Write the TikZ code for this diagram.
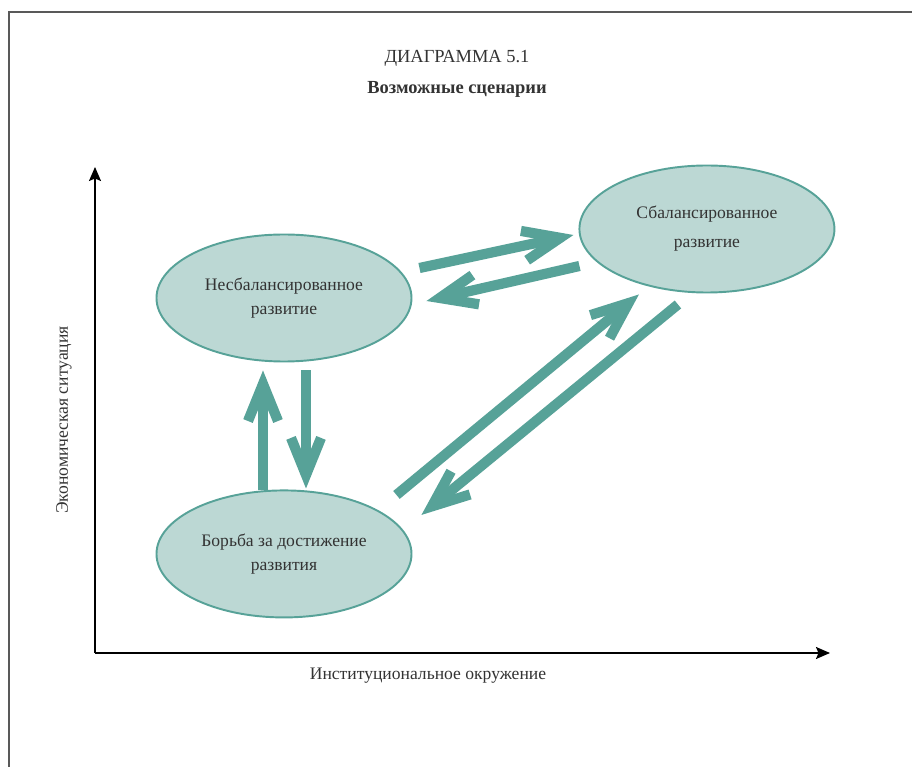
\documentclass[tikz,border=0pt]{standalone}
\usepackage{fontspec}
\setmainfont{Liberation Serif}
\usetikzlibrary{positioning,shapes.geometric,arrows.meta}

\definecolor{tealline}{HTML}{57A298}
\definecolor{tealfill}{HTML}{BCD8D4}
\definecolor{textgray}{HTML}{333333}

\tikzset{
    state/.style={ellipse, draw=tealline, line width=1.1pt, fill=tealfill,
        minimum width=5.1cm, minimum height=2.54cm, inner sep=0pt,
        align=center, text=textgray, font=\fontsize{10}{13.5}\selectfont},
    flow/.style={draw=tealline, line width=5.8pt,
        -{Straight Barb[length=0.74cm, width=0.6cm, line cap=butt]}},
    axis/.style={line width=1pt, -{Stealth[length=0.28cm, width=0.24cm, inset=0.05cm]}},
}

\begin{document}
\begin{tikzpicture}
                \useasboundingbox (0,0) rectangle (18.24,-15.34);
                \draw[gray!70!black, line width=1.1pt] (0.18,-15.34) -- (0.18,-0.24) -- (18.24,-0.24);

                \node[text=textgray, font=\fontsize{10.5}{12}\selectfont] (title) at (9.14,-1.16) {ДИАГРАММА 5.1};
                \node[below=0.06cm of title, text=textgray, font=\fontsize{10.5}{12}\selectfont\bfseries] (subtitle) {Возможные сценарии};

                % axes
                \coordinate (o) at (1.9,-13.06);
                \coordinate (ytop) at (1.9,-3.34);
                \coordinate (xend) at (16.6,-13.06);
                \draw[axis] (o) -- (ytop);
                \draw[axis] (o) -- (xend);
                \node[rotate=90, text=textgray, font=\fontsize{10}{12}\selectfont] (ylab) at (1.28,-8.4) {Экономическая ситуация};
                \node[text=textgray, font=\fontsize{10}{12}\selectfont] (xlab) at (8.56,-13.52) {Институциональное окружение};

                % states
                \node[state] (nb) at (5.68,-5.96) {Несбалансированное\\развитие};
                \node[state, below=2.54cm of nb] (fd) {Борьба за достижение\\развития};
                \node[state, right=3.32cm of nb, yshift=1.38cm] (bd) {Сбалансированное\\[3pt]развитие};

                % transitions
                \draw[flow] ([shift={(0.14,0.6)}]nb.east) -- ([shift={(-0.1,-0.12)}]bd.west);
                \draw[flow] ([shift={(0.02,-0.74)}]bd.west) -- ([shift={(0.28,-0.06)}]nb.east);
                \draw[flow] ([shift={(-0.42,-0.02)}]fd.north) -- ([shift={(-0.42,-0.16)}]nb.south);
                \draw[flow] ([shift={(0.44,-0.16)}]nb.south) -- ([shift={(0.44,0.02)}]fd.north);
                \draw[flow] ([shift={(-0.32,1.18)}]fd.east) -- ([shift={(-1.36,-0.02)}]bd.south);
                \draw[flow] ([shift={(-0.58,-0.22)}]bd.south) -- ([shift={(0.18,0.78)}]fd.east);
            \end{tikzpicture}
\end{document}
